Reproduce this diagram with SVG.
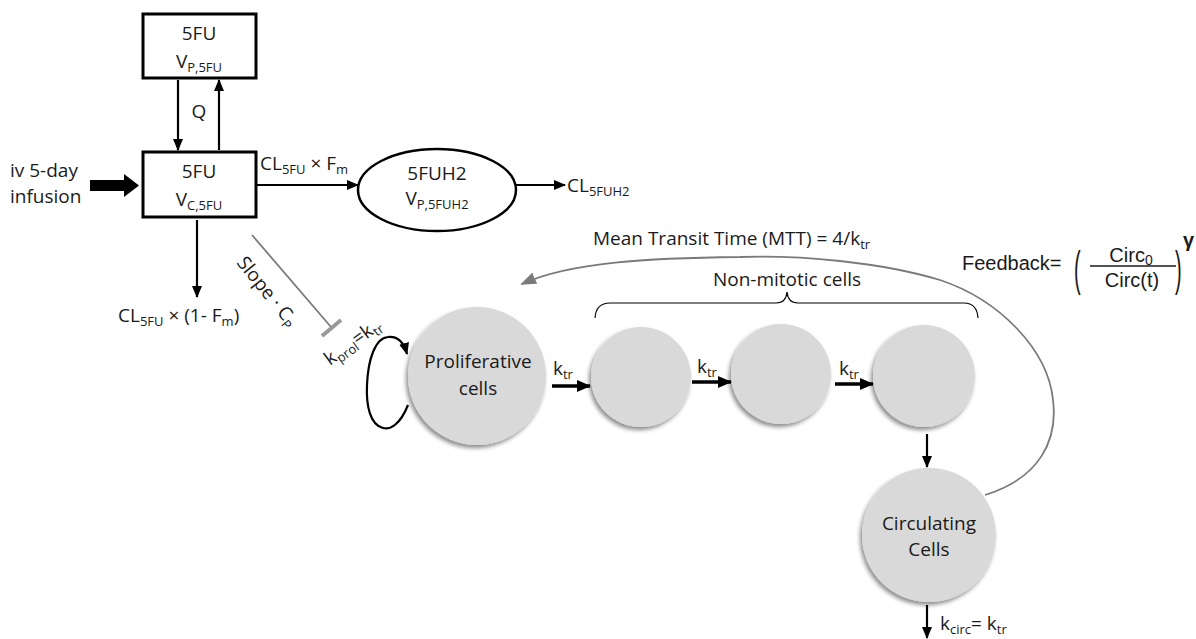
<svg xmlns="http://www.w3.org/2000/svg" width="1196" height="639" viewBox="0 0 1196 639">
  <defs>
    <style>
      .t{font-family:"Open Sans","Liberation Sans",sans-serif;font-size:19px;fill:#1a1a1a}
      .m{text-anchor:middle}
      .ar{font-family:"Liberation Sans",Arial,sans-serif;font-size:20px;fill:#1a1a1a}
      .box{fill:#fff;stroke:#000;stroke-width:3}
      .ln{stroke:#000;stroke-width:2.2;fill:none}
      .thick{stroke:#000;stroke-width:3.5;fill:none}
      .gray{stroke:#7a7a7a;stroke-width:1.8;fill:none}
      .cell{fill:#d9d9d9;filter:url(#sh)}
    </style>
    <marker id="ah" markerUnits="userSpaceOnUse" markerWidth="12" markerHeight="10" refX="11" refY="5" orient="auto">
      <path d="M0,0 L12,5 L0,10 z" fill="#000"/>
    </marker>
    <marker id="ahb" markerUnits="userSpaceOnUse" markerWidth="14" markerHeight="12" refX="13" refY="6" orient="auto">
      <path d="M0,0 L14,6 L0,12 z" fill="#000"/>
    </marker>
    <marker id="ahg" markerUnits="userSpaceOnUse" markerWidth="16" markerHeight="12" refX="14" refY="6" orient="auto">
      <path d="M0,0 L16,6 L0,12 z" fill="#7a7a7a"/>
    </marker>
    <filter id="sh" x="-20%" y="-20%" width="140%" height="140%">
      <feDropShadow dx="-2" dy="3" stdDeviation="2" flood-color="#000" flood-opacity="0.45"/>
    </filter>
  </defs>

  <rect width="1196" height="639" fill="#fff"/>

  <!-- pharmacokinetic compartments -->
  <g id="peripheral-5fu">
    <rect class="box" x="143" y="14" width="113" height="64"/>
    <text class="t m" x="199" y="40">5FU</text>
    <text class="t m" x="199" y="68">V<tspan font-size="13" dy="4">P,5FU</tspan></text>
  </g>

  <g id="central-5fu">
    <rect class="box" x="143" y="152" width="113" height="65"/>
    <text class="t m" x="199" y="178">5FU</text>
    <text class="t m" x="199" y="206">V<tspan font-size="13" dy="4">C,5FU</tspan></text>
  </g>

  <g id="metabolite-5fuh2">
    <ellipse cx="437" cy="190" rx="79" ry="41" fill="#fff" stroke="#000" stroke-width="2.5"/>
    <text class="t m" x="437" y="180">5FUH2</text>
    <text class="t m" x="437" y="205">V<tspan font-size="13" dy="4">P,5FUH2</tspan></text>
  </g>

  <g id="infusion">
    <text class="t" x="10" y="177">iv 5-day</text>
    <text class="t" x="10" y="203">infusion</text>
    <polygon points="90,180 124,180 124,174 139,185.5 124,197 124,191 90,191" fill="#000"/>
  </g>

  <!-- cell compartments -->
  <g id="proliferative">
    <circle class="cell" cx="477" cy="376" r="69"/>
    <text class="t m" x="478" y="368">Proliferative</text>
    <text class="t m" x="478" y="395">cells</text>
  </g>
  <g id="transit-1"><circle class="cell" cx="641" cy="377" r="50"/></g>
  <g id="transit-2"><circle class="cell" cx="781" cy="374" r="50"/></g>
  <g id="transit-3"><circle class="cell" cx="924" cy="376" r="51"/></g>
  <g id="circulating">
    <circle class="cell" cx="929" cy="535" r="67"/>
    <text class="t m" x="929" y="530">Circulating</text>
    <text class="t m" x="929" y="556">Cells</text>
  </g>

  <g id="non-mitotic-label">
    <path d="M595,318 Q596,303 610,303 L776,303 Q786,303 787,292 Q788,303 798,303 L964,303 Q977,303 978,318" fill="none" stroke="#000" stroke-width="1.2"/>
    <text class="t m" x="787" y="286">Non-mitotic cells</text>
  </g>

  <g id="feedback-formula">
    <text class="ar" x="962" y="270">Feedback=</text>
    <text class="ar" x="1074" y="118.75" font-size="26" transform="scale(1,2.4)">(</text>
    <text class="ar" x="1175" y="118.75" font-size="26" transform="scale(1,2.4)">)</text>
    <text class="ar m" x="1131" y="262">Circ<tspan font-size="14" dy="3">0</tspan></text>
    <line x1="1090" y1="266" x2="1176" y2="266" stroke="#1a1a1a" stroke-width="1.3"/>
    <text class="ar m" x="1132" y="287">Circ(t)</text>
    <text class="ar" x="1183" y="247" font-size="16" font-weight="bold">γ</text>
  </g>

  <!-- connectors -->
  <g id="connectors">
    <line class="ln" x1="178" y1="80" x2="178" y2="150" marker-end="url(#ah)"/>
    <line class="ln" x1="219" y1="150" x2="219" y2="80" marker-end="url(#ah)"/>
    <text class="t m" x="199" y="118">Q</text>

    <line class="ln" x1="256" y1="185" x2="358" y2="185" marker-end="url(#ah)"/>
    <text class="t" x="260" y="170">CL<tspan font-size="13" dy="4">5FU</tspan><tspan dy="-4"> × F</tspan><tspan font-size="13" dy="4">m</tspan></text>

    <line class="ln" x1="516" y1="185" x2="565" y2="185" marker-end="url(#ah)"/>
    <text class="t" x="567" y="192">CL<tspan font-size="13" dy="4">5FUH2</tspan></text>

    <line class="ln" x1="197" y1="220" x2="197" y2="297" marker-end="url(#ah)"/>
    <text class="t" x="118" y="322">CL<tspan font-size="13" dy="4">5FU</tspan><tspan dy="-4"> × (1- F</tspan><tspan font-size="13" dy="4">m</tspan><tspan dy="-4">)</tspan></text>

    <!-- drug effect on proliferation -->
    <line class="gray" x1="252" y1="235" x2="331" y2="327"/>
    <line x1="322" y1="336" x2="341" y2="320" stroke="#999" stroke-width="4"/>
    <text class="t" transform="translate(236,263) rotate(51)">Slope · C<tspan font-size="13" dy="4">P</tspan></text>

    <!-- self renewal -->
    <path class="ln" d="M408,405 C400,425 390,430 383,428 C370,425 366,405 367,385 C368,360 375,338 388,337 C398,336 404,343 407,354" marker-end="url(#ah)"/>
    <text class="t" transform="translate(330,366) rotate(-36)">k<tspan font-size="13" dy="4">prol</tspan><tspan dy="-4">=k</tspan><tspan font-size="13" dy="4">tr</tspan></text>

    <!-- transit chain -->
    <line class="thick" x1="552" y1="386" x2="590" y2="386" marker-end="url(#ahb)"/>
    <text class="t" x="553" y="375">k<tspan font-size="13" dy="4">tr</tspan></text>
    <line class="thick" x1="692" y1="382" x2="731" y2="382" marker-end="url(#ahb)"/>
    <text class="t" x="697" y="373">k<tspan font-size="13" dy="4">tr</tspan></text>
    <line class="thick" x1="835" y1="384" x2="873" y2="384" marker-end="url(#ahb)"/>
    <text class="t" x="839" y="375">k<tspan font-size="13" dy="4">tr</tspan></text>

    <line class="ln" x1="927" y1="434" x2="927" y2="467" marker-end="url(#ah)"/>
    <line class="ln" x1="927" y1="605" x2="927" y2="638" marker-end="url(#ah)"/>
    <text class="t" x="940" y="630">k<tspan font-size="13" dy="4">circ</tspan><tspan dy="-4">= k</tspan><tspan font-size="13" dy="4">tr</tspan></text>

    <!-- feedback loop -->
    <path class="gray" d="M985,495 C1040,478 1058,440 1053,400 C1048,350 1000,300 940,280 C880,262 800,255 740,257 C650,258 570,262 522,284" marker-end="url(#ahg)"/>
    <text class="t" x="593" y="245">Mean Transit Time (MTT) = 4/k<tspan font-size="13" dy="4">tr</tspan></text>
  </g>
</svg>
